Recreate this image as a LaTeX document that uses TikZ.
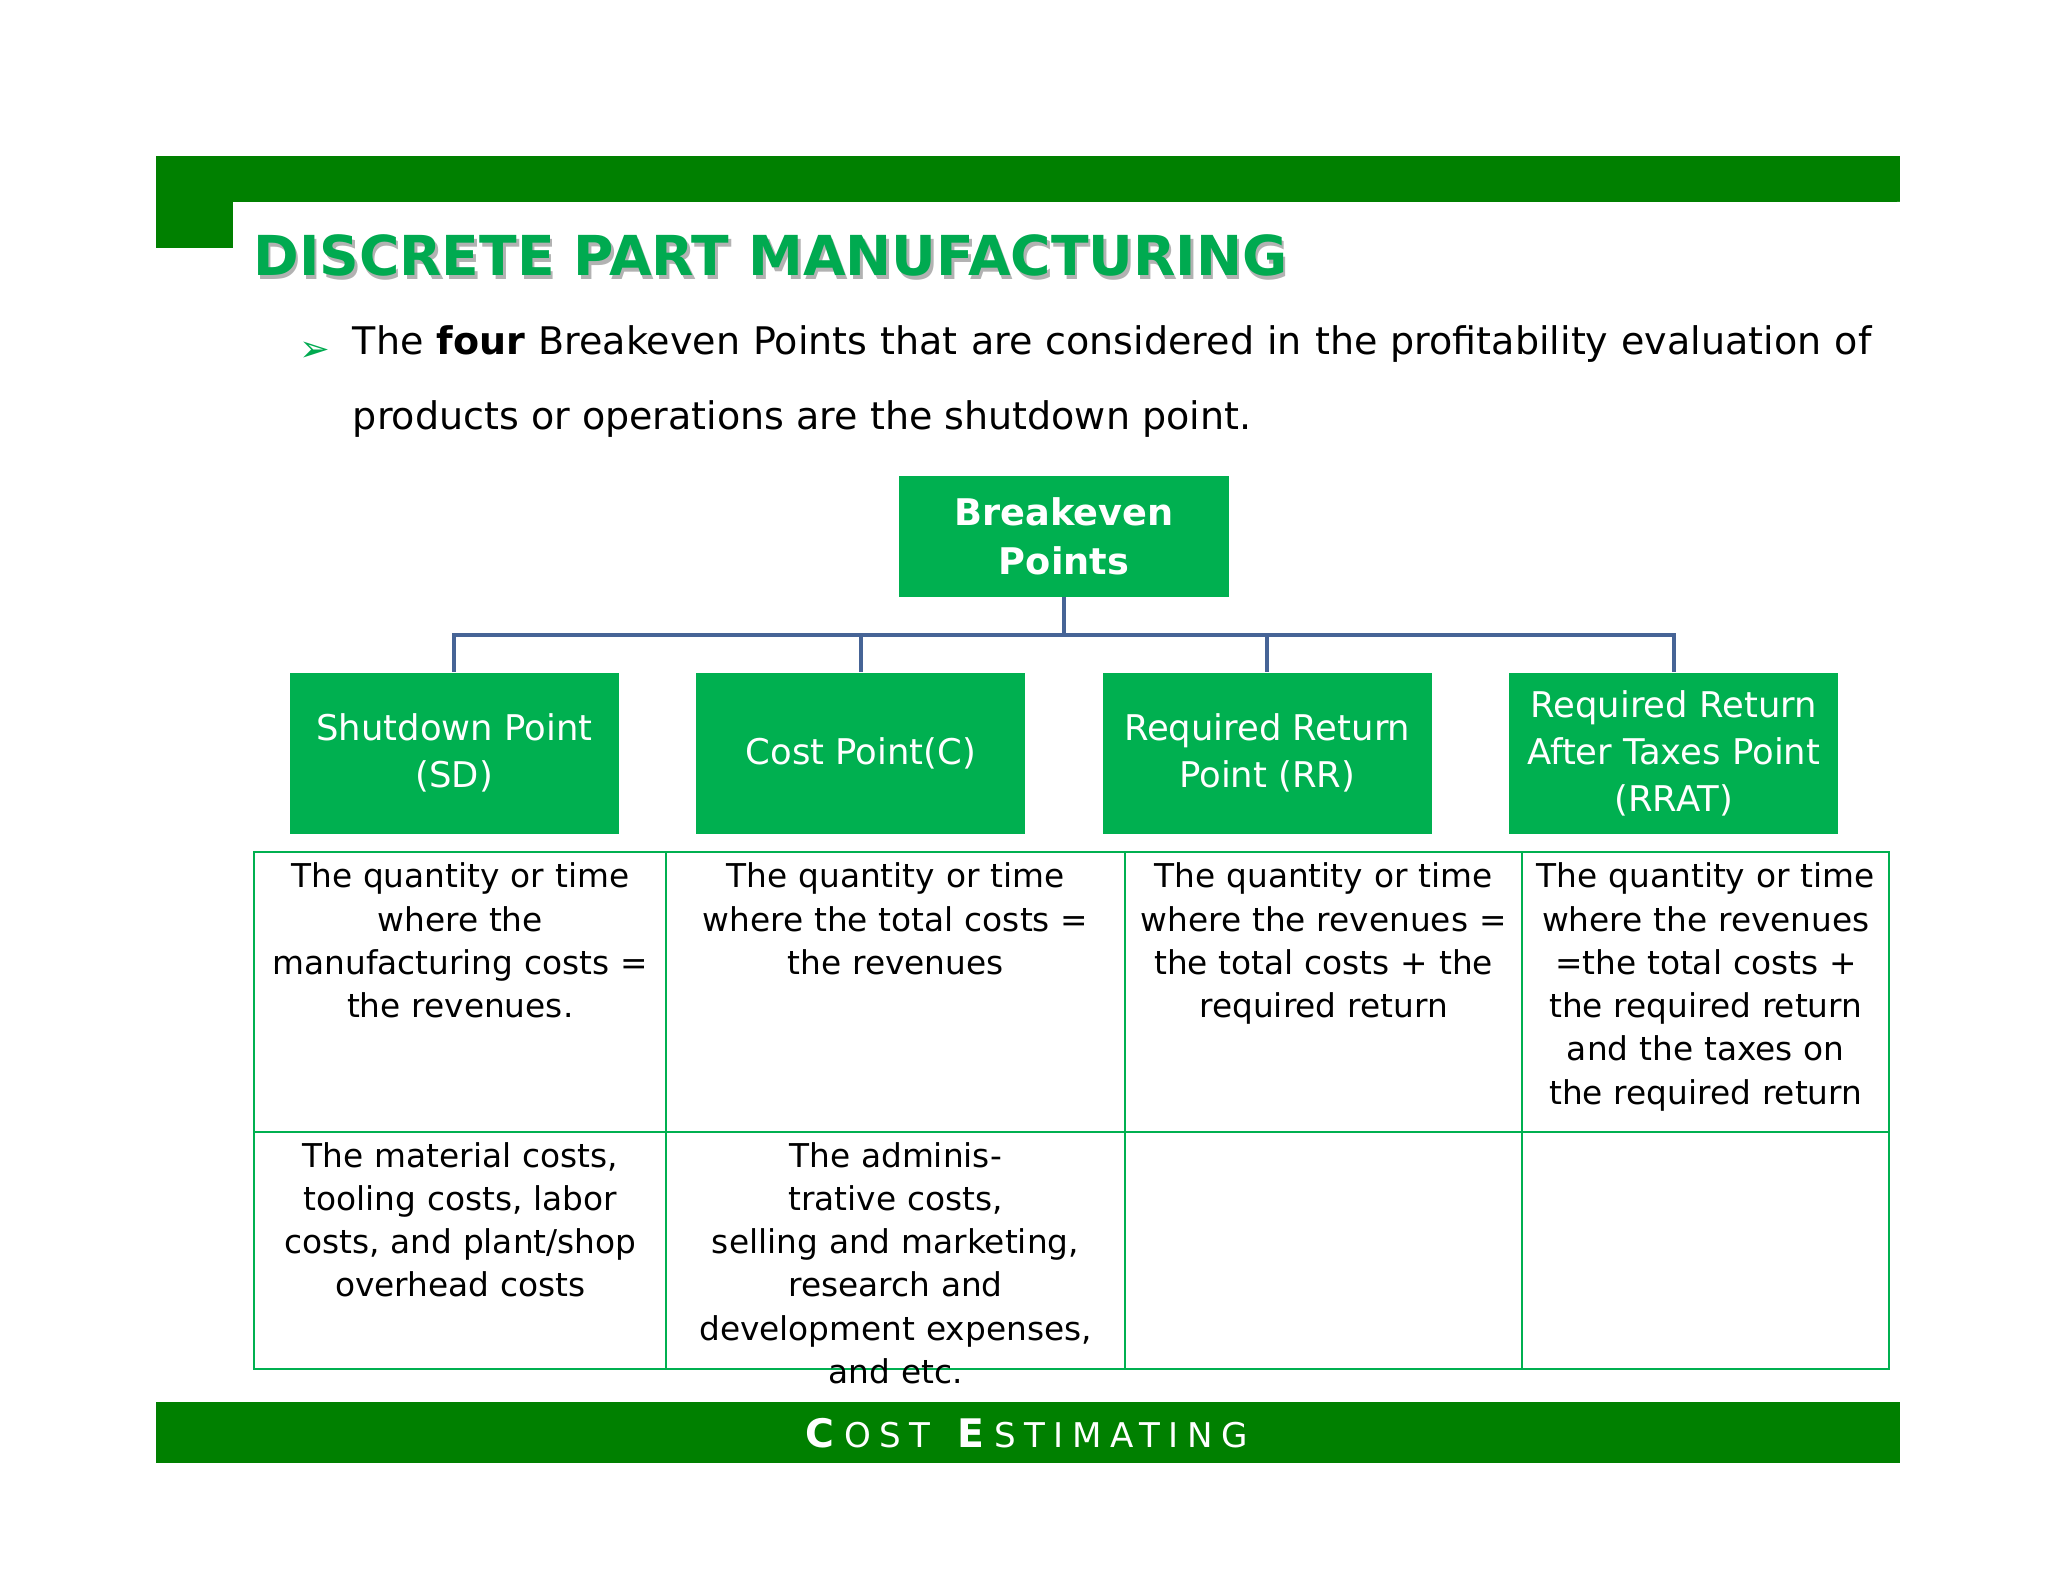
\documentclass[tikz,border=0pt]{standalone}
\usepackage{fontspec}
\setmainfont{DejaVu Sans}
\definecolor{dg}{RGB}{0,128,0}
\definecolor{bg}{RGB}{0,176,80}
\definecolor{tg}{RGB}{0,170,80}
\definecolor{ln}{RGB}{70,100,150}
\begin{document}
\begin{tikzpicture}[x=1pt,y=-1pt,
  hdr/.style={fill=bg,draw=none,minimum width=251pt,minimum height=123pt,text=white,align=center,font=\fontsize{27}{36}\selectfont,inner sep=0pt},
  cell/.style={anchor=north,align=center,text width=300pt,font=\fontsize{25}{33}\selectfont,inner sep=0pt},
  conn/.style={draw=ln,line width=3pt}]
\useasboundingbox (0,0) rectangle (1562,1206);
% top bar
\fill[dg] (119,119) rectangle (1449,154);
\fill[dg] (119,119) rectangle (178,189);
\fill[white] (178,189) -- (178,174) arc[start angle=180,end angle=90,radius=20] -- (1449,154) -- (1449,189) -- cycle;
\node[anchor=base west,inner sep=0pt,text=black!30,font=\fontsize{42}{42}\selectfont\bfseries] at (195,213) {DISCRETE PART MANUFACTURING};
\node (title) [anchor=base west,inner sep=0pt,text=tg,font=\fontsize{42}{42}\selectfont\bfseries] at (193,210) {DISCRETE PART MANUFACTURING};
% bullet
\node (arr) [anchor=base west,inner sep=0pt,text=tg,font=\fontsize{28}{28}\selectfont] at (228,276) {➢};
\node (bul) [anchor=north west,inner sep=0pt,text width=1158pt,align=justify,font=\fontsize{29}{57}\selectfont] at (269,248) {The \textbf{four} Breakeven Points that are considered in the profitability evaluation of products or operations are the shutdown point.};
% tree
\node (be) [hdr,minimum width=252pt,minimum height=92pt,font=\fontsize{28}{38}\selectfont\bfseries] at (811.5,409) {Breakeven\\Points};
\node (sd) [hdr] at (346.5,574.5) {Shutdown Point\\(SD)};
\node (c) [hdr] at (656.5,574.5) {Cost Point(C)};
\node (rr) [hdr] at (966.5,574.5) {Required Return\\Point (RR)};
\node (rrat) [hdr] at (1276.5,574.5) {Required Return\\After Taxes Point\\(RRAT)};
\coordinate (j) at (811.5,484);
\draw[conn] (be.south) -- (j);
\foreach \n in {sd,c,rr,rrat}{\draw[conn] (j) -| (\n.north);}
% table
\draw[bg,line width=1.5pt] (194,650) rectangle (1441,1044);
\draw[bg,line width=1.5pt] (194,863) -- (1441,863);
\foreach \x in {508,858,1161}{\draw[bg,line width=1.5pt] (\x,650) -- (\x,1044);}
\node (t1) [cell] at (351,658) {The quantity or time\\where the\\manufacturing costs =\\the revenues.};
\node (t2) [cell] at (683,658) {The quantity or time\\where the total costs =\\the revenues};
\node (t3) [cell] at (1009.5,658) {The quantity or time\\where the revenues =\\the total costs + the\\required return};
\node (t4) [cell] at (1301,658) {The quantity or time\\where the revenues\\=the total costs +\\the required return\\and the taxes on\\the required return};
\node (b1) [cell] at (351,871) {The material costs,\\tooling costs, labor\\costs, and plant/shop\\overhead costs};
\node (b2) [cell] at (683,871) {The administrative costs,\\selling and marketing,\\research and\\development expenses,\\and etc.};
% footer
\fill[dg] (119,1069) rectangle (1449,1116);
\node (foot) [text=white,inner sep=0pt,font=\fontsize{26}{26}\selectfont] at (783,1093) {\addfontfeature{LetterSpace=25}\textbf{\fontsize{30}{30}\selectfont C}OST\hspace{14pt}\textbf{\fontsize{30}{30}\selectfont E}STIMATING};
\end{tikzpicture}
\end{document}
